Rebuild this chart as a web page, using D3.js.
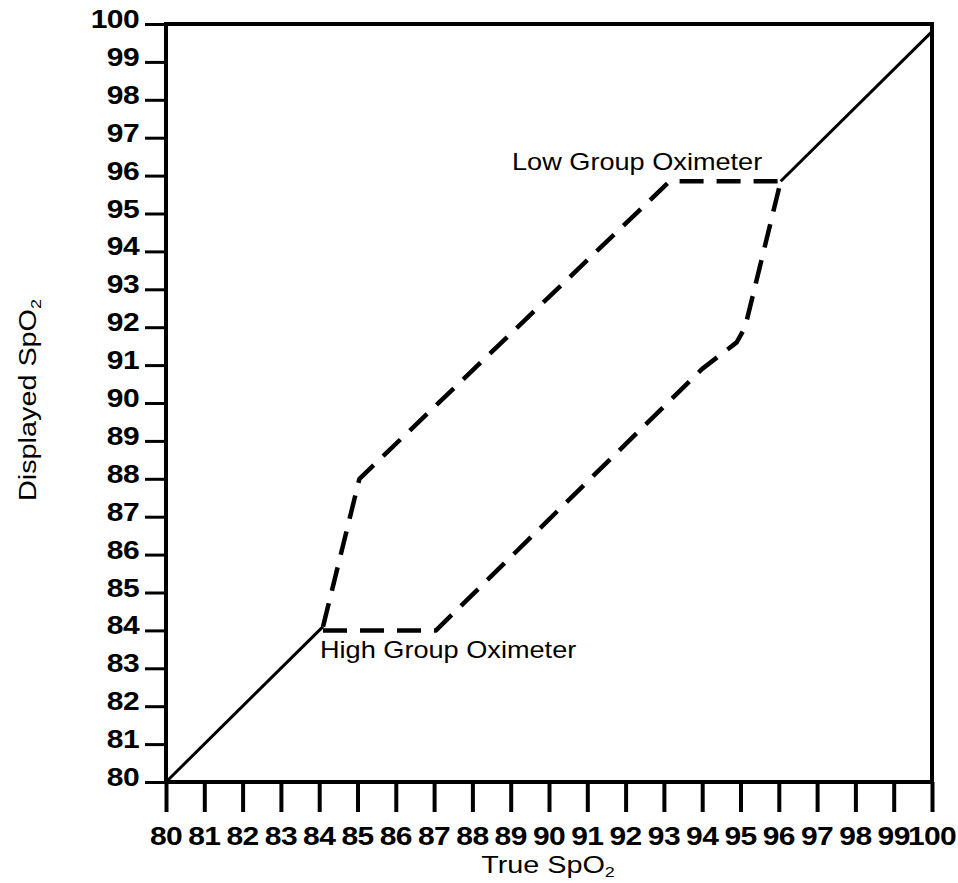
<!DOCTYPE html>
<html><head><meta charset="utf-8">
<script src="https://cdn.jsdelivr.net/npm/d3@7"></script>
<style>html,body{margin:0;padding:0;background:#fff;} svg{display:block;}</style>
</head><body>
<svg id="chart" width="958" height="883"></svg>
<script>
// ---- data ----
const xTicks = d3.range(80, 101);           // 80..100
const yTicks = d3.range(80, 101);
const xTickLabels = xTicks.map(String);
const yTickLabels = yTicks.map(String);

// identity (solid) segments
const solidLowX = [80, 84.1];
const solidLowY = [80, 84.1];
const solidHighX = [96.05, 100];
const solidHighY = [95.85, 99.8];

// upper dashed curve (ends at "Low Group Oximeter" plateau)
const lowGroupX = [84.1, 85.05, 93.15, 96.05];
const lowGroupY = [84.1, 88.0, 95.85, 95.85];

// lower dashed curve (starts at "High Group Oximeter" plateau)
const highGroupX = [84.1, 87.05, 94.0, 94.9, 95.12, 96.05];
const highGroupY = [84.0, 84.0, 90.9, 91.6, 92.0, 95.85];

const xTitle = "True SpO";
const yTitle = "Displayed SpO";
const lowLabel = "Low Group Oximeter";
const highLabel = "High Group Oximeter";

// ---- drawing ----
const svg = d3.select("#chart");
const FONT = "'Liberation Sans', Arial, Helvetica, sans-serif";
const SX = 1.2;

const x = d3.scaleLinear().domain([80, 100]).range([166, 932]);
const y = d3.scaleLinear().domain([80, 100]).range([782, 24]);

// ticks via axes (labels drawn separately with horizontal stretch)
const gx = svg.append("g").attr("transform", `translate(0,${y(80)})`)
  .call(d3.axisBottom(x).tickValues(xTicks).tickSize(30).tickSizeOuter(0).tickFormat(""));
gx.select(".domain").remove();
gx.selectAll(".tick line").attr("stroke", "#000").attr("stroke-width", 4);

const gy = svg.append("g").attr("transform", `translate(${x(80)},0)`)
  .call(d3.axisLeft(y).tickValues(yTicks).tickSize(21).tickSizeOuter(0).tickFormat(""));
gy.select(".domain").remove();
gy.selectAll(".tick line").attr("stroke", "#000").attr("stroke-width", 3);

// frame
svg.append("rect")
  .attr("x", x(80)).attr("y", y(100))
  .attr("width", x(100) - x(80)).attr("height", y(80) - y(100))
  .attr("fill", "none").attr("stroke", "#000").attr("stroke-width", 4);

// tick labels
svg.append("g").selectAll("text").data(yTicks).join("text")
  .attr("transform", d => `translate(139,${y(d) + 4}) scale(${SX},1)`)
  .attr("text-anchor", "end")
  .attr("font-family", FONT).attr("font-weight", "bold").attr("font-size", 25)
  .attr("letter-spacing", -0.5)
  .text((d, i) => yTickLabels[i]);

svg.append("g").selectAll("text").data(xTicks).join("text")
  .attr("transform", d => `translate(${x(d)},845) scale(${SX},1)`)
  .attr("text-anchor", "middle")
  .attr("font-family", FONT).attr("font-weight", "bold").attr("font-size", 25)
  .attr("letter-spacing", -0.5)
  .text((d, i) => xTickLabels[i]);

// lines
const line = d3.line().x(d => x(d[0])).y(d => y(d[1]));
const zip = (a, b) => a.map((v, i) => [v, b[i]]);

svg.append("path").datum(zip(solidLowX, solidLowY)).attr("d", line)
  .attr("fill", "none").attr("stroke", "#000").attr("stroke-width", 3);
svg.append("path").datum(zip(solidHighX, solidHighY)).attr("d", line)
  .attr("fill", "none").attr("stroke", "#000").attr("stroke-width", 3);

[zip(lowGroupX, lowGroupY), zip(highGroupX, highGroupY)].forEach(pts => {
  svg.append("path").datum(pts).attr("d", line)
    .attr("fill", "none").attr("stroke", "#000").attr("stroke-width", 4.5)
    .attr("stroke-dasharray", "24,13").attr("stroke-linejoin", "round");
});

// annotations
svg.append("text")
  .attr("transform", `translate(512,170) scale(1.18,1)`)
  .attr("font-family", FONT).attr("font-size", 23)
  .text(lowLabel);
svg.append("text")
  .attr("transform", `translate(320,658) scale(1.18,1)`)
  .attr("font-family", FONT).attr("font-size", 23)
  .text(highLabel);

// axis titles
const xt = svg.append("text")
  .attr("transform", `translate(548,873) scale(${SX},1)`)
  .attr("text-anchor", "middle")
  .attr("font-family", FONT).attr("font-size", 24);
xt.append("tspan").text(xTitle);
xt.append("tspan").attr("font-size", 15).attr("dy", 4).text("2");

const yt = svg.append("text")
  .attr("transform", `translate(36,400) rotate(-90) scale(${SX},1)`)
  .attr("text-anchor", "middle")
  .attr("font-family", FONT).attr("font-size", 24);
yt.append("tspan").text(yTitle);
yt.append("tspan").attr("font-size", 15).attr("dy", 5).text("2");
</script>
</body></html>
